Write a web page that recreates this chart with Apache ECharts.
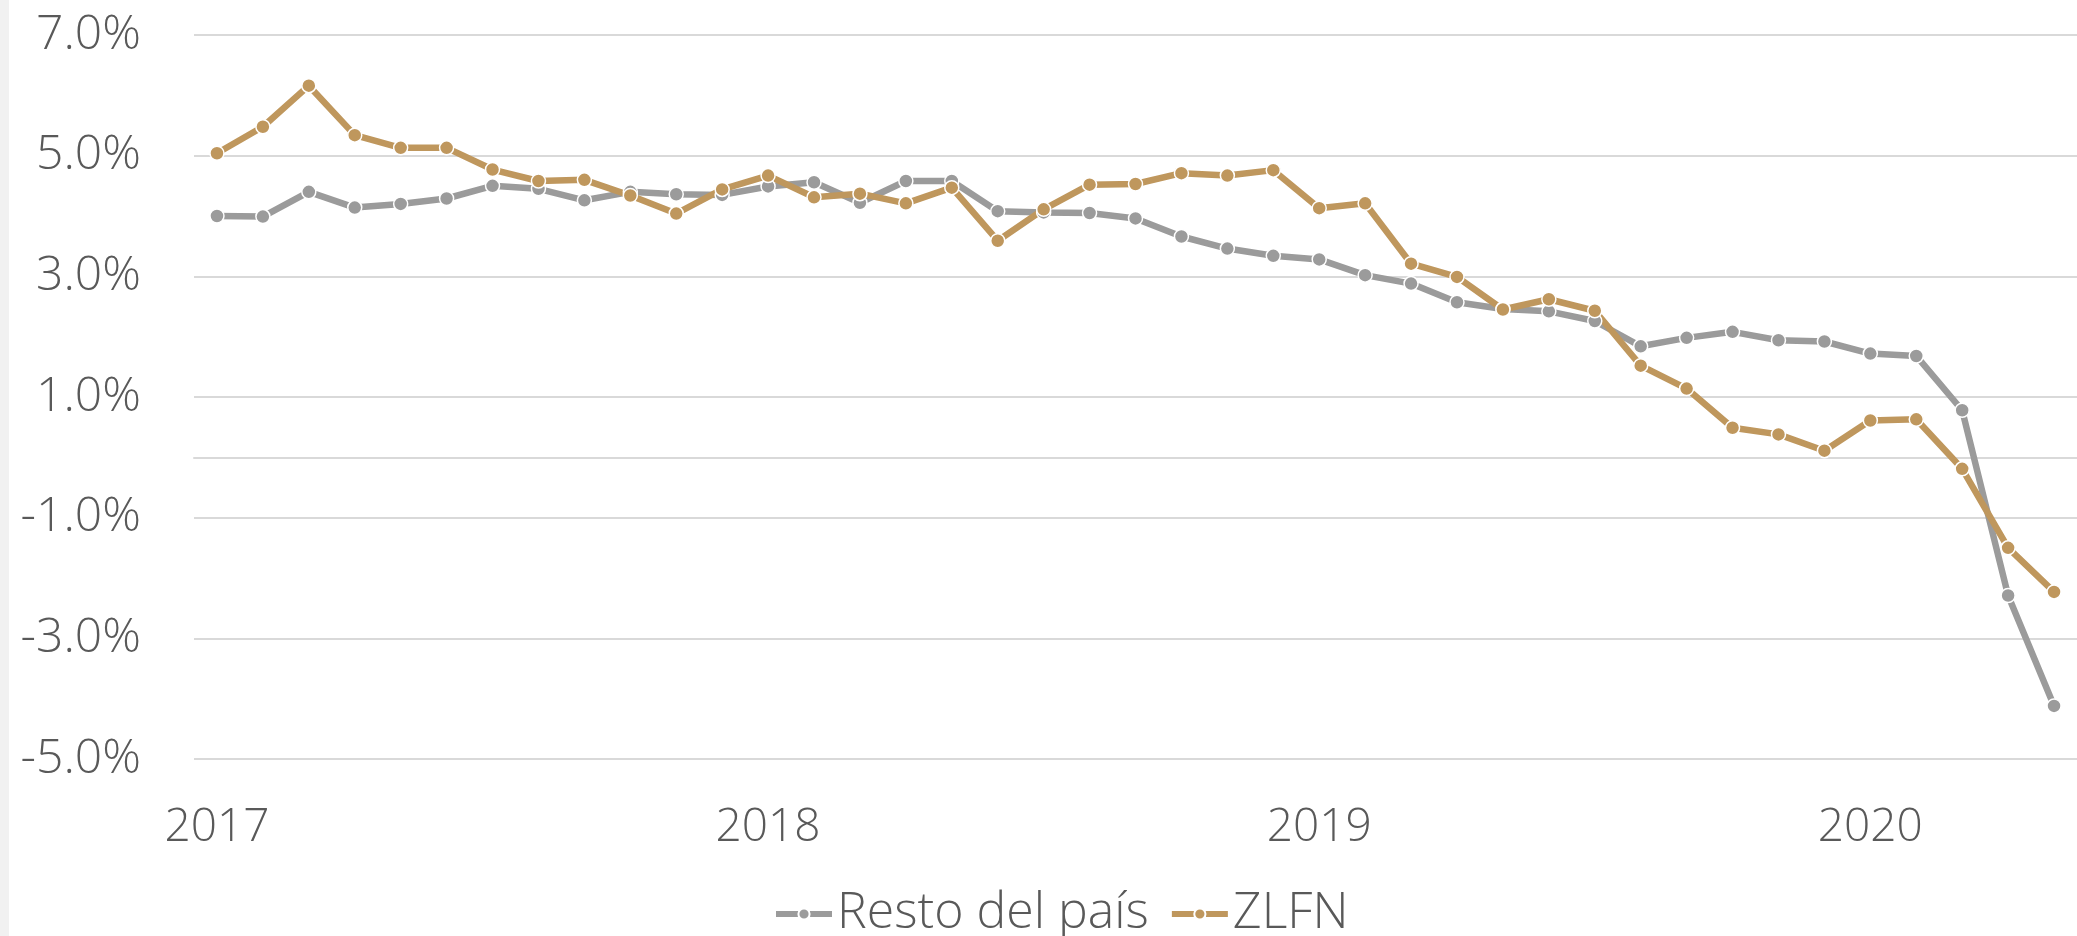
<!DOCTYPE html>
<html>
<head>
<meta charset="utf-8">
<script src="https://cdn.jsdelivr.net/npm/echarts@6/dist/echarts.min.js"></script>
<style>
  html, body { margin: 0; padding: 0; background: #fff; }
  #chart { width: 2077px; height: 936px; }
</style>
</head>
<body>
<div id="chart"></div>
<script>
// meses ene 2017 - may 2020
const months = [
  "2017-01", "2017-02", "2017-03", "2017-04", "2017-05", "2017-06", "2017-07", "2017-08", "2017-09", "2017-10", "2017-11", "2017-12",
  "2018-01", "2018-02", "2018-03", "2018-04", "2018-05", "2018-06", "2018-07", "2018-08", "2018-09", "2018-10", "2018-11", "2018-12",
  "2019-01", "2019-02", "2019-03", "2019-04", "2019-05", "2019-06", "2019-07", "2019-08", "2019-09", "2019-10", "2019-11", "2019-12",
  "2020-01", "2020-02", "2020-03", "2020-04", "2020-05"
];

const restoDelPais = [
  4.00, 3.99, 4.40, 4.14, 4.20, 4.29, 4.50, 4.45, 4.26, 4.40, 4.36, 4.35,
  4.49, 4.56, 4.22, 4.58, 4.58, 4.08, 4.06, 4.05, 3.96, 3.66, 3.46, 3.34,
  3.28, 3.02, 2.88, 2.57, 2.46, 2.42, 2.26, 1.84, 1.98, 2.08, 1.94, 1.92,
  1.72, 1.68, 0.78, -2.29, -4.12
];

const zlfn = [
  5.04, 5.48, 6.16, 5.34, 5.13, 5.13, 4.77, 4.58, 4.60, 4.34, 4.04, 4.44,
  4.67, 4.31, 4.37, 4.21, 4.47, 3.59, 4.11, 4.52, 4.53, 4.71, 4.67, 4.76,
  4.13, 4.21, 3.21, 2.99, 2.45, 2.62, 2.43, 1.52, 1.14, 0.49, 0.38, 0.11,
  0.61, 0.63, -0.19, -1.50, -2.23
];

const yTicks = [-5, -3, -1, 1, 3, 5, 7];

const textColor = "#595959";
const gridColor = "#d9d9d9";
const fontFamily = "'Open Sans', Lato, sans-serif";

const chart = echarts.init(document.getElementById("chart"));

const option = {
  animation: false,
  backgroundColor: "#ffffff",
  color: ["#9b9b9b", "#bf975d"],
  grid: {
    left: 194,
    right: -19,
    top: 35,
    bottom: 177,
    containLabel: false
  },
  legend: {
    left: 768,
    top: 884,
    itemWidth: 56,
    itemHeight: 14,
    itemGap: 20,
    lineStyle: { width: 6 },
    textStyle: {
      color: textColor,
      fontSize: 50,
      fontFamily: fontFamily,
      fontWeight: 300
    },
    data: ["Resto del país", "ZLFN"]
  },
  xAxis: [
    {
      type: "category",
      data: months,
      boundaryGap: true,
      axisLine: { show: false, onZero: false },
      axisTick: { show: false },
      axisLabel: {
        interval: 11,
        margin: 46,
        color: textColor,
        fontSize: 46,
        fontFamily: fontFamily,
        fontWeight: 300,
        formatter: (v) => v.slice(0, 4)
      },
      splitLine: { show: false }
    },
    {
      // linea del cero (eje horizontal de Excel)
      type: "category",
      data: months,
      boundaryGap: true,
      axisLine: { show: true, onZero: true, lineStyle: { color: gridColor, width: 2 } },
      axisTick: { show: false },
      axisLabel: { show: false },
      splitLine: { show: false }
    }
  ],
  yAxis: {
    type: "value",
    min: yTicks[0],
    max: yTicks[yTicks.length - 1],
    interval: 2,
    axisLine: { show: false },
    axisTick: { show: false },
    axisLabel: {
      margin: 53,
      color: textColor,
      fontSize: 48,
      fontFamily: fontFamily,
      fontWeight: 300,
      formatter: (v) => v.toFixed(1) + "%"
    },
    splitLine: { lineStyle: { color: gridColor, width: 2 } }
  },
  series: [
    {
      name: "Resto del país",
      type: "line",
      data: restoDelPais,
      symbol: "circle",
      symbolSize: 14,
      lineStyle: { width: 6.5 },
      itemStyle: { borderColor: "#ffffff", borderWidth: 1.5 }
    },
    {
      name: "ZLFN",
      type: "line",
      data: zlfn,
      symbol: "circle",
      symbolSize: 14,
      lineStyle: { width: 6.5 },
      itemStyle: { borderColor: "#ffffff", borderWidth: 1.5 }
    }
  ],
  graphic: [
    {
      type: "rect",
      left: 0,
      top: 0,
      z: -1,
      shape: { width: 9, height: 936 },
      style: { fill: "#f1f1f1" }
    }
  ]
};

chart.setOption(option);
</script>
</body>
</html>
